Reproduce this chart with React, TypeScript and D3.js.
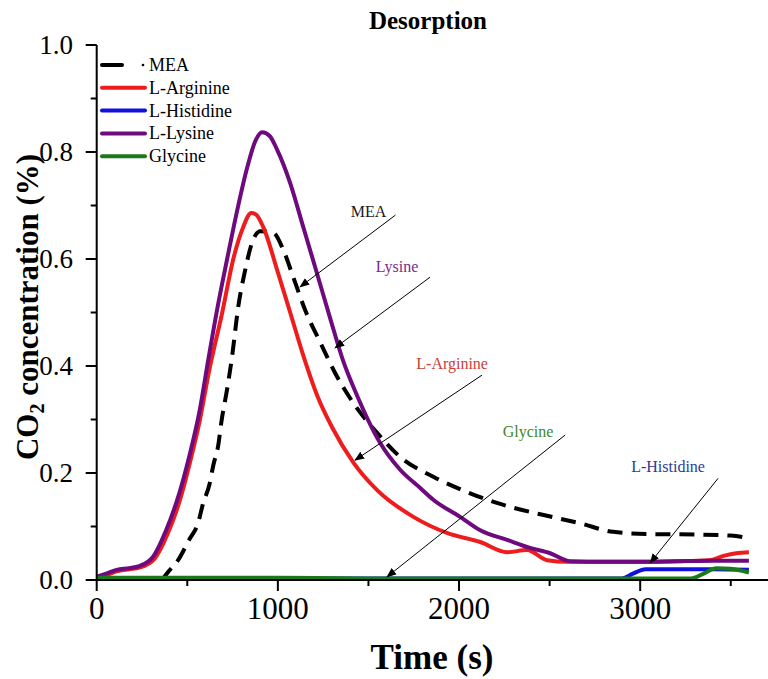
import React from "react";
import * as d3 from "d3";

const W = 768;
const H = 679;

// Time (s) and CO2 concentration (%) series
const meaT = [360, 394, 449, 510, 560, 588, 622, 644, 671, 688, 721, 747, 781, 820, 857, 903, 975, 1030, 1085, 1150, 1233, 1316, 1416, 1548, 1675, 1858, 2040, 2200, 2300, 2486, 2668, 2850, 3038, 3300, 3500, 3600];
const meaV = [0.0, 0.015, 0.037, 0.075, 0.107, 0.144, 0.178, 0.215, 0.252, 0.295, 0.359, 0.417, 0.51, 0.58, 0.63, 0.652, 0.649, 0.617, 0.566, 0.505, 0.445, 0.387, 0.331, 0.275, 0.23, 0.193, 0.165, 0.145, 0.135, 0.12, 0.106, 0.09, 0.086, 0.085, 0.083, 0.078];

const argT = [0, 60, 110, 180, 235, 320, 390, 460, 515, 570, 620, 693, 754, 809, 853, 880, 919, 1000, 1068, 1140, 1217, 1300, 1416, 1548, 1748, 1933, 2117, 2265, 2376, 2486, 2596, 2800, 3000, 3200, 3380, 3460, 3530, 3600];
const argV = [0.005, 0.01, 0.016, 0.02, 0.023, 0.04, 0.085, 0.15, 0.22, 0.3, 0.39, 0.5, 0.6, 0.66, 0.686, 0.683, 0.66, 0.575, 0.5, 0.42, 0.345, 0.285, 0.22, 0.168, 0.118, 0.088, 0.071, 0.052, 0.056, 0.037, 0.034, 0.034, 0.034, 0.035, 0.037, 0.045, 0.05, 0.052];

const hisT = [0, 1000, 2000, 2900, 2960, 3030, 3200, 3400, 3600];
const hisV = [0.003, 0.003, 0.003, 0.003, 0.012, 0.02, 0.02, 0.02, 0.019];

const lysT = [0, 60, 110, 180, 235, 310, 383, 454, 510, 570, 610, 665, 720, 775, 830, 875, 913, 955, 995, 1068, 1140, 1217, 1288, 1360, 1437, 1565, 1675, 1786, 1858, 2006, 2117, 2265, 2392, 2503, 2613, 2800, 3000, 3200, 3400, 3600];
const lysV = [0.006, 0.013, 0.019, 0.022, 0.026, 0.043, 0.093, 0.16, 0.23, 0.32, 0.4, 0.506, 0.6, 0.69, 0.77, 0.82, 0.837, 0.83, 0.805, 0.742, 0.66, 0.572, 0.49, 0.41, 0.345, 0.256, 0.206, 0.172, 0.15, 0.118, 0.093, 0.075, 0.06, 0.05, 0.035, 0.034, 0.034, 0.035, 0.036, 0.036];

const glyT = [0, 500, 1000, 1500, 2000, 2500, 3000, 3280, 3350, 3420, 3500, 3600];
const glyV = [0.004, 0.004, 0.004, 0.003, 0.003, 0.003, 0.003, 0.003, 0.012, 0.022, 0.021, 0.014];

const seriesNames = ["MEA", "L-Arginine", "L-Histidine", "L-Lysine", "Glycine"];
const seriesColors = ["#000000", "#ee1c1c", "#1010e0", "#6e0a7e", "#1a7a1a"];

const xTicks = [0, 1000, 2000, 3000];
const xMinor = [500, 1500, 2500, 3500];
const yTicks = [0, 0.2, 0.4, 0.6, 0.8, 1.0];
const yMinor = [0.1, 0.3, 0.5, 0.7, 0.9];

// annotations: label, text anchor point (t, v), arrow start, arrow tip, color
const annLabels = ["MEA", "Lysine", "L-Arginine", "Glycine", "L-Histidine"];
const annColors = ["#1a1a1a", "#7a2a8a", "#c8403a", "#3a8a2a", "#2a3aa0"];
const annText = [[1500, 0.679], [1658, 0.576], [1962, 0.394], [2381, 0.267], [3154, 0.201]];
const annFrom = [[1649, 0.682], [1840, 0.566], [2127, 0.383], [2586, 0.271], [3430, 0.19]];
const annTip = [[1123, 0.548], [1316, 0.434], [1426, 0.224], [1603, 0.006], [3055, 0.032]];

const SERIF = "'Liberation Serif', 'Times New Roman', Times, serif";
const tx = { fontFamily: SERIF };

export default function App() {
  const x = d3.scaleLinear().domain([0, 3700]).range([96.7, 767]);
  const y = d3.scaleLinear().domain([0, 1]).range([580, 45]);

  const line = d3
    .line<[number, number]>()
    .x((d) => x(d[0]))
    .y((d) => y(d[1]))
    .curve(d3.curveMonotoneX);

  const series = [
    { t: meaT, v: meaV },
    { t: argT, v: argV },
    { t: hisT, v: hisV },
    { t: lysT, v: lysV },
    { t: glyT, v: glyV },
  ];

  return (
    <svg width={W} height={H} style={{ position: "absolute", left: 0, top: 0, background: "#fff" }}>
      <rect width={W} height={H} fill="#fff" />
      <defs>
        <marker id="arr" viewBox="0 0 10 10" refX="9" refY="5" markerWidth="10" markerHeight="10" markerUnits="userSpaceOnUse" orient="auto">
          <path d="M0,1 L10,5 L0,9 z" fill="#000" />
        </marker>
      </defs>

      {/* title */}
      <text x={428} y={29} textAnchor="middle" fontSize={25} fontWeight="bold" style={tx}>Desorption</text>

      {/* series */}
      {series.map((s, i) => (
        <path
          key={seriesNames[i]}
          d={line(s.t.map((t, j) => [t, s.v[j]] as [number, number])) || ""}
          fill="none"
          stroke={seriesColors[i]}
          strokeWidth={4}
          strokeDasharray={i === 0 ? "15 9" : undefined}
          strokeLinejoin="round"
        />
      ))}

      {/* axes */}
      <line x1={x(0)} x2={x(0)} y1={y(1)} y2={y(0) + 1} stroke="#000" strokeWidth={2} />
      <line x1={x(0) - 1} x2={768} y1={y(0)} y2={y(0)} stroke="#000" strokeWidth={2} />
      {yTicks.map((v) => (
        <g key={"y" + v}>
          <line x1={x(0) - 11} x2={x(0)} y1={y(v)} y2={y(v)} stroke="#000" strokeWidth={2} />
          <text x={73} y={y(v) + 9} textAnchor="end" fontSize={27} style={tx}>{v.toFixed(1)}</text>
        </g>
      ))}
      {yMinor.map((v) => (
        <line key={"ym" + v} x1={x(0) - 6} x2={x(0)} y1={y(v)} y2={y(v)} stroke="#000" strokeWidth={2} />
      ))}
      {xTicks.map((t) => (
        <g key={"x" + t}>
          <line x1={x(t)} x2={x(t)} y1={y(0)} y2={y(0) + 11} stroke="#000" strokeWidth={2} />
          <text x={x(t)} y={619} textAnchor="middle" fontSize={31} style={tx}>{t}</text>
        </g>
      ))}
      {xMinor.map((t) => (
        <line key={"xm" + t} x1={x(t)} x2={x(t)} y1={y(0)} y2={y(0) + 6} stroke="#000" strokeWidth={2} />
      ))}

      {/* axis titles */}
      <text x={432} y={669} textAnchor="middle" fontSize={35} fontWeight="bold" style={tx}>Time (s)</text>
      <text transform="translate(38,307) rotate(-90)" textAnchor="middle" fontSize={31} fontWeight="bold" style={tx}>
        CO<tspan fontSize={20} dy={6}>2</tspan><tspan dy={-6}> concentration (%)</tspan>
      </text>

      {/* annotations */}
      {annLabels.map((lab, i) => (
        <g key={"a" + lab}>
          <text x={x(annText[i][0])} y={y(annText[i][1])} textAnchor="middle" fontSize={16} fill={annColors[i]} style={tx}>{lab}</text>
          <line
            x1={x(annFrom[i][0])}
            y1={y(annFrom[i][1])}
            x2={x(annTip[i][0])}
            y2={y(annTip[i][1])}
            stroke="#000"
            strokeWidth={1}
            markerEnd="url(#arr)"
          />
        </g>
      ))}

      {/* legend */}
      {seriesNames.map((n, i) => {
        const ly = 65 + i * 22.8;
        return (
          <g key={"l" + n}>
            {i === 0 ? (
              <>
                <line x1={102} x2={122} y1={ly} y2={ly} stroke="#000" strokeWidth={4} strokeLinecap="round" />
                <circle cx={143} cy={ly} r={1.3} fill="#000" />
              </>
            ) : (
              <line x1={102} x2={145} y1={ly} y2={ly} stroke={seriesColors[i]} strokeWidth={4} strokeLinecap="round" />
            )}
            <text x={149} y={ly + 6} fontSize={18} style={tx}>{n}</text>
          </g>
        );
      })}
    </svg>
  );
}
